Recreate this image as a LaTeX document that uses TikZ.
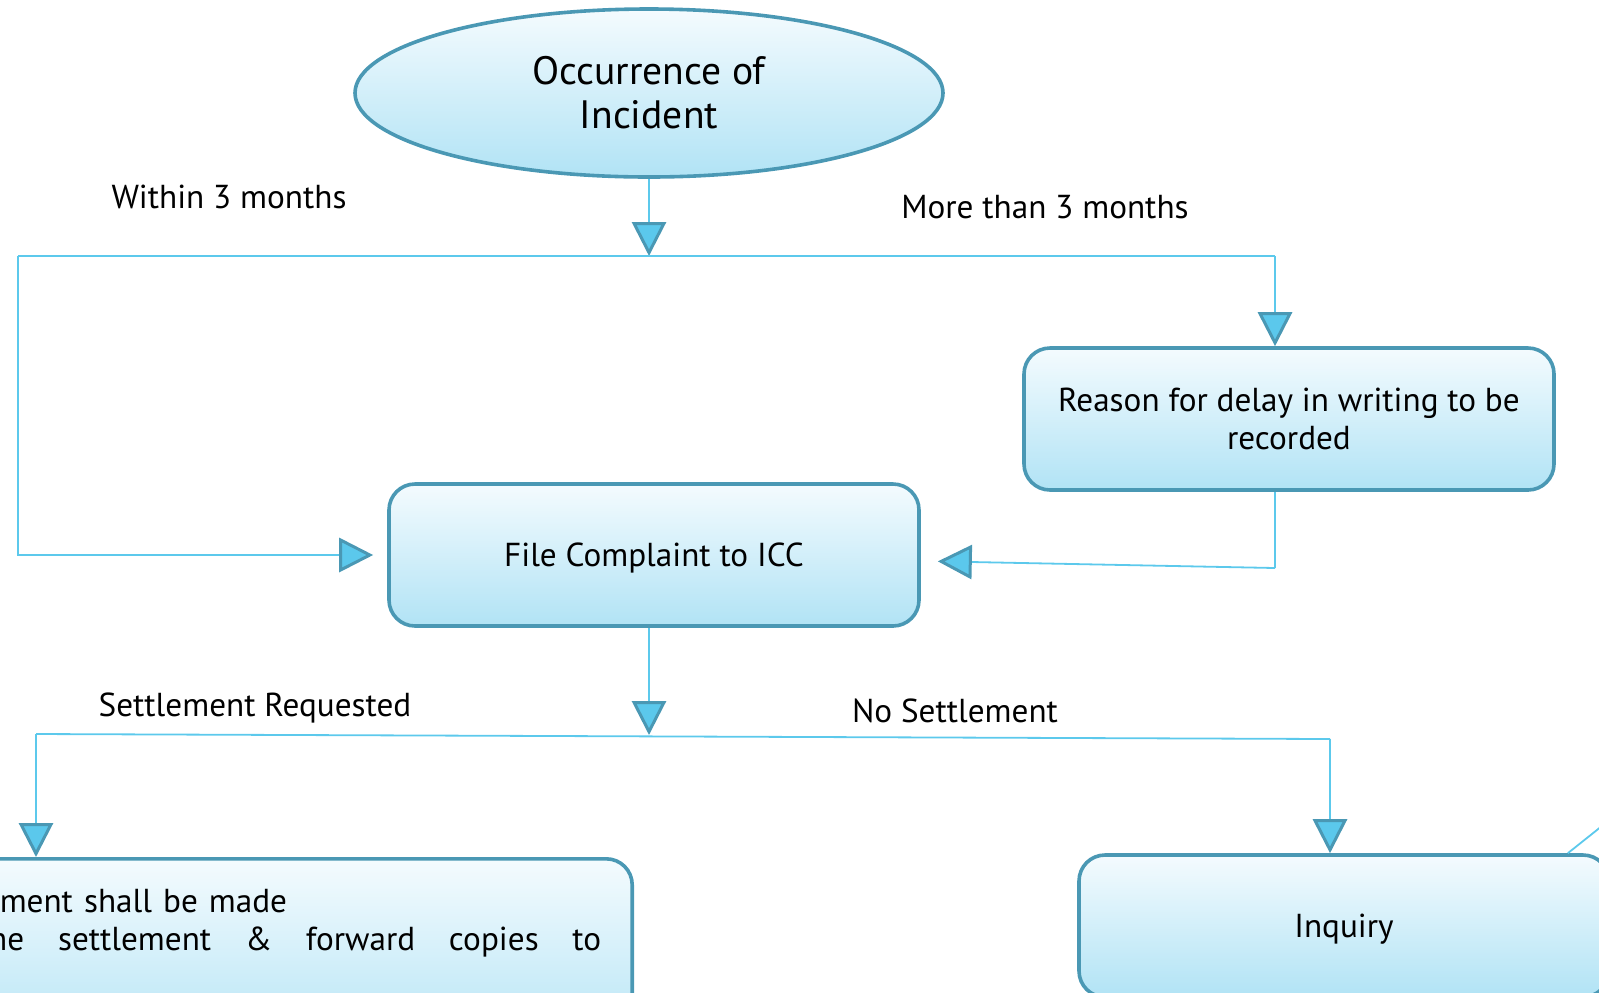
\documentclass[tikz,border=0pt]{standalone}
\usepackage{fontspec}
\setmainfont{PT Sans}
\usetikzlibrary{shapes,arrows.meta,positioning,calc}
\definecolor{edge}{HTML}{4A98B4}
\definecolor{wire}{HTML}{5CC9EC}
\definecolor{tipfill}{HTML}{5BC8EC}
\definecolor{boxtop}{HTML}{F4FBFE}
\definecolor{boxbot}{HTML}{B1E3F5}
\tikzset{
  bx/.style={rectangle,draw=edge,line width=1.8pt,rounded corners=13pt,top color=boxtop,bottom color=boxbot,minimum width=265pt,minimum height=71pt,align=center,font=\fontsize{16.6}{19}\selectfont},
  bx1/.style={bx,text height=15pt,text depth=3.5pt},
  cld/.style={ellipse,draw=edge,line width=1.8pt,top color=boxtop,bottom color=boxbot,minimum width=294pt,minimum height=84pt,inner sep=0pt,align=center,font=\fontsize{19.8}{22}\selectfont},
  ln/.style={draw=wire,line width=0.9pt},
  arr/.style={ln,-{Triangle[length=17pt,width=17pt,fill=tipfill,color=edge,line width=1.5pt]}},
  lbl/.style={font=\fontsize{16.6}{19}\selectfont},
}
\begin{document}
\begin{tikzpicture}[x=0.5pt,y=-0.5pt]
  \useasboundingbox (0,0) rectangle (1599,992);
  \clip (0,0) rectangle (1599,992);
  \node[cld] (occ) at (649,93) {Occurrence of\\Incident};
  \node[bx] (reason) at (1289,419) {Reason for delay in writing to be\\recorded};
  \node[bx1] (icc) at (654,555) {File Complaint to ICC};
  \node[bx1] (inq) at (1344,926) {Inquiry};
  \node[bx,anchor=north east,align=left,minimum width=0pt,minimum height=0pt,text width=342.5pt,inner xsep=15.5pt,inner ysep=15pt,text depth=60pt] (settle) at (634,857) {Settlement shall be made\\\makebox[342.5pt]{of\hfill the\hfill settlement\hfill\&\hfill forward\hfill copies\hfill to}};
  \coordinate (j1) at (649,256);
  \coordinate (jl) at (18,256);
  \coordinate (jr) at (1275,256);
  \coordinate (jrb) at (1275,568);
  \coordinate (j2) at (649,735);
  \coordinate (kl) at (36,734);
  \coordinate (kr) at (1330,739);
  \coordinate (out) at (1612,818);
  \draw[arr] (occ) -- (j1);
  \draw[ln] (jl) -- (jr);
  \draw[arr,shorten >=7pt] (jl) |- (icc);
  \draw[arr] (jr) -- (jr |- reason.north);
  \draw[ln] (jr |- reason.south) -- (jrb);
  \draw[arr,shorten >=8.5pt] (jrb) -- ([yshift=-3pt]icc.east);
  \draw[arr] (icc.south -| j2) -- (j2);
  \draw[ln] (kl) -- (kr);
  \draw[arr] (kl) -- (kl |- settle.north);
  \draw[arr] (kr) -- (kr |- inq.north);
  \draw[ln] ([xshift=-21.5pt]inq.north east) -- (out);
  \node[lbl] (w3) at (229,197) {Within 3 months};
  \node[lbl] (m3) at (1045,207) {More than 3 months};
  \node[lbl] (sr) at (255,708) {Settlement Requested};
  \node[lbl] (ns) at (955,711) {No Settlement};
\end{tikzpicture}
\end{document}
